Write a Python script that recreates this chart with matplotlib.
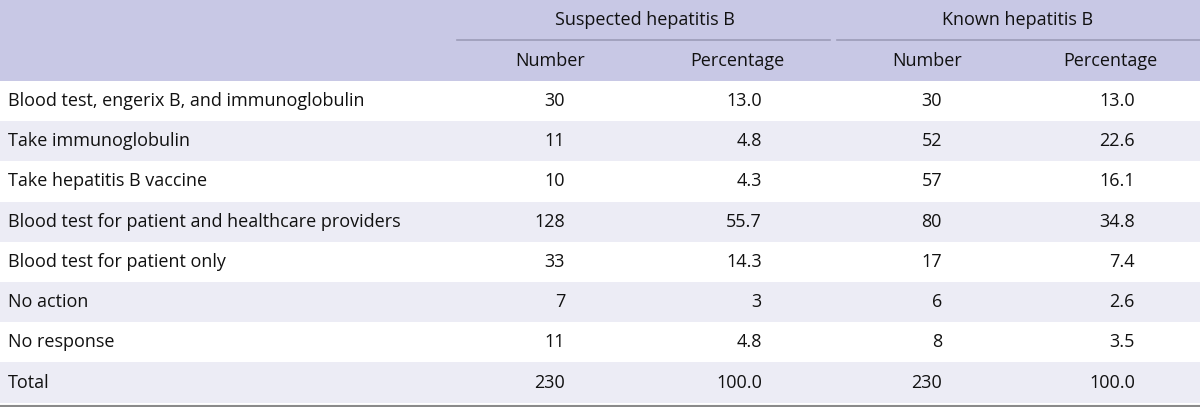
import matplotlib.pyplot as plt
from matplotlib.patches import Rectangle

# table contents
groups = ['Suspected hepatitis B', 'Known hepatitis B']
sub_headers = ['Number', 'Percentage', 'Number', 'Percentage']
actions = [
    'Blood test, engerix B, and immunoglobulin',
    'Take immunoglobulin',
    'Take hepatitis B vaccine',
    'Blood test for patient and healthcare providers',
    'Blood test for patient only',
    'No action',
    'No response',
    'Total',
]
suspected_n = ['30', '11', '10', '128', '33', '7', '11', '230']
suspected_pct = ['13.0', '4.8', '4.3', '55.7', '14.3', '3', '4.8', '100.0']
known_n = ['30', '52', '57', '80', '17', '6', '8', '230']
known_pct = ['13.0', '22.6', '16.1', '34.8', '7.4', '2.6', '3.5', '100.0']

header_color = '#c8c8e5'
stripe_color = '#ececf5'
text_color = '#111111'
font = 'Open Sans'
fs = 13

fig = plt.figure(figsize=(12, 4.07), dpi=100)
ax = fig.add_axes([0, 0, 1, 1])
ax.set_xlim(0, 1200)
ax.set_ylim(407, 0)
ax.axis('off')

# header band
ax.add_patch(Rectangle((0, 0), 1200, 81, color=header_color, lw=0))

row_h = 40.2
top = 81
for i in range(len(actions)):
    if i % 2 == 1:
        ax.add_patch(Rectangle((0, top + i * row_h), 1200, row_h,
                               color=stripe_color, lw=0))

# group headings and underlines
group_centers = [645, 1018]
group_spans = [(457, 830), (837, 1200)]
for g, cx, (x0, x1) in zip(groups, group_centers, group_spans):
    ax.text(cx, 20, g, ha='center', va='center', fontsize=fs,
            family=font, color=text_color)
    ax.plot([x0, x1], [40, 40], color='#9c9cb8', lw=1.2)

sub_centers = [550, 737, 927, 1110]
for h, cx in zip(sub_headers, sub_centers):
    ax.text(cx, 61, h, ha='center', va='center', fontsize=fs,
            family=font, color=text_color)

# body
right_edges = [565, 762, 942, 1135]
columns = [suspected_n, suspected_pct, known_n, known_pct]
for i, label in enumerate(actions):
    yc = top + i * row_h + row_h / 2
    ax.text(8, yc, label, ha='left', va='center', fontsize=fs,
            family=font, color=text_color)
    for col, xr in zip(columns, right_edges):
        ax.text(xr, yc, col[i], ha='right', va='center', fontsize=fs,
                family=font, color=text_color)

ax.plot([0, 1200], [405.5, 405.5], color='#8a8a8a', lw=1.5)

fig.savefig('out.png', dpi=100)
